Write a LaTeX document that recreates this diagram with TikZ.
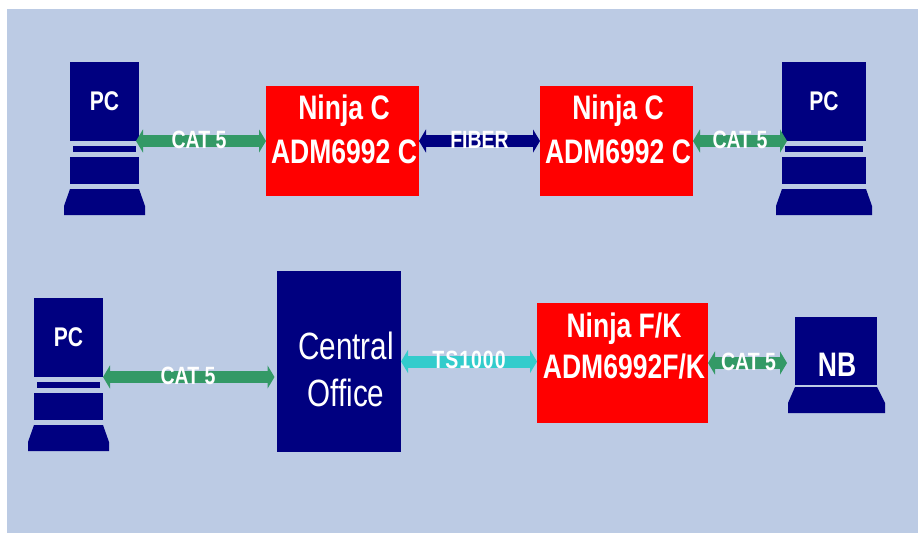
\documentclass[tikz,border=0pt]{standalone}
\usepackage{fontspec}
\usepackage{tikz}
\usetikzlibrary{arrows.meta, positioning}
\newfontfamily\narrowfont[FakeStretch=0.78]{Liberation Sans}
\definecolor{slidebg}{RGB}{188,203,228}
\definecolor{boxnavy}{RGB}{0,0,128}
\definecolor{catgreen}{RGB}{51,153,102}
\definecolor{tscyan}{RGB}{51,204,204}
\tikzset{
    navybox/.style={fill=boxnavy, inner sep=0pt, outer sep=0pt},
    redbox/.style={fill=red, inner sep=0pt, outer sep=0pt},
    boxtext/.style={text=white, align=center, font=\narrowfont\bfseries\fontsize{34}{44}\selectfont},
    pctext/.style={text=white, font=\narrowfont\bfseries\fontsize{27}{30}\selectfont},
    link/.style={line width=12pt, {Triangle[length=7pt,width=23pt]}-{Triangle[length=7pt,width=23pt]}},
    linklabel/.style={text=white, midway, yshift=1.5pt, inner sep=0pt, font=\narrowfont\bfseries\fontsize{25}{26}\selectfont}
}

\begin{document}
\begin{tikzpicture}[x=1pt,y=-1pt]
    \useasboundingbox (0,0) rectangle (918,533);
    % Background
    \fill[slidebg] (7,9) rectangle (918,533);

    % PC towers (name/left/top/width)
    \foreach \name/\x/\y/\w in {pc1/70/62/69, pc2/782/62/84, pc3/34/298/69} {
        \node[navybox, minimum width=\w pt, minimum height=79pt, pctext] (\name) at (\x+\w/2,\y+39.5) {PC};
        \fill[boxnavy] (\x+3,\y+84) rectangle (\x+\w-3,\y+90);
        \fill[boxnavy] (\x,\y+95) rectangle (\x+\w,\y+122);
        \fill[boxnavy] (\x,\y+127) -- (\x+\w,\y+127) -- (\x+\w+6,\y+144) -- (\x+\w+6,\y+153)
            -- (\x-6,\y+153) -- (\x-6,\y+144) -- cycle;
    }

    % Notebook
    \node[navybox, minimum width=82pt, minimum height=68pt] (nb) at (836,351) {};
    \node[pctext, font=\narrowfont\bfseries\fontsize{34}{36}\selectfont] (nbtext) at (837,364.5) {NB};
    \fill[boxnavy] (795,387) -- (877,387) -- (885,403) -- (885,413) -- (788,413) -- (788,403) -- cycle;

    % Central office
    \node[navybox, minimum width=124pt, minimum height=181pt] (co) at (339,361.5) {};
    \node[boxtext, font=\narrowfont\fontsize{38}{47}\selectfont] (cotext) at (346,369) {Central\\Office};

    % Red boxes
    \node[redbox, minimum width=153pt, minimum height=110pt] (ninja1) at (342.5,141) {};
    \node[redbox, minimum width=153pt, minimum height=110pt] (ninja2) at (616.5,141) {};
    \node[redbox, minimum width=171pt, minimum height=120pt] (ninja3) at (622.5,363) {};
    \node[boxtext] (ninja1text) at (344,129) {Ninja C\\ADM6992 C};
    \node[boxtext] (ninja2text) at (618,129) {Ninja C\\ADM6992 C};
    \node[boxtext] (ninja3text) at (624,346.5) {Ninja F/K\\[-3pt]ADM6992F/K};

    % Links
    \draw[link, catgreen, shorten <=-3pt] (pc1.south east) -- (ninja1.west) node[linklabel, xshift=-3.5pt] {CAT 5};
    \draw[link, boxnavy] (ninja1.east) -- (ninja2.west) node[linklabel] {FIBER};
    \draw[link, catgreen, shorten >=-5pt] (ninja2.east) -- (pc2.south west) node[linklabel, xshift=2.5pt] {CAT 5};
    \draw[link, catgreen, shorten >=2.5pt] (pc3.south east) -- (pc3.south east -| co.west) node[linklabel, xshift=-2pt] {CAT 5};
    \draw[link, tscyan] (co.east) -- (co.east -| ninja3.west) node[linklabel] {\addfontfeature{LetterSpace=4}TS1000};
    \draw[link, catgreen, shorten >=8pt] (ninja3.east) -- (nb.west |- ninja3.east) node[linklabel, xshift=-3pt] {CAT 5};
\end{tikzpicture}
\end{document}
